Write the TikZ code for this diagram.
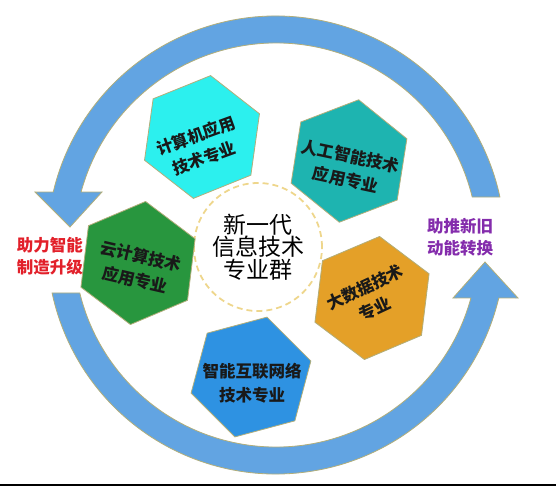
\documentclass[tikz,border=0pt]{standalone}
\usepackage{fontspec}
\newfontfamily\cjk{Noto Sans CJK SC}
\usetikzlibrary{shapes.geometric}

\definecolor{ringblue}{RGB}{98,164,226}
\definecolor{ringline}{RGB}{178,174,122}
\definecolor{hexcyan}{RGB}{44,240,238}
\definecolor{hexteal}{RGB}{30,180,176}
\definecolor{hexorange}{RGB}{228,160,40}
\definecolor{hexblue}{RGB}{46,146,226}
\definecolor{hexgreen}{RGB}{40,150,62}
\definecolor{coreline}{RGB}{238,214,140}
\definecolor{leftred}{RGB}{226,32,42}
\definecolor{rightpurple}{RGB}{132,44,172}

\begin{document}
\begin{tikzpicture}[x=1pt, y=1pt,
  hexa/.style={regular polygon, regular polygon sides=6, minimum size=124pt,
    inner sep=0pt, draw=ringline, line width=0.8pt},
  hexlabel/.style={font=\cjk\bfseries\fontsize{16.5}{24}\selectfont,
    align=center, text=black!90, inner sep=0pt},
  sidelabel/.style={font=\cjk\bfseries\fontsize{16.5}{22}\selectfont,
    align=center, inner sep=0pt},
  ring/.style={fill=ringblue, draw=ringline, line width=0.8pt}]
\useasboundingbox (-276,-242) rectangle (280,245);

\def\rin{202}
\def\rout{229}
\def\yu{48}
\def\yh{53}
\pgfmathsetmacro{\ai}{asin(\yu/\rin)}
\pgfmathsetmacro{\ao}{asin(\yu/\rout)}
\pgfmathsetmacro{\bi}{asin(\yh/\rin)}
\pgfmathsetmacro{\bo}{asin(\yh/\rout)}
\pgfmathsetmacro{\ubi}{180-\bi}
\pgfmathsetmacro{\ubo}{180-\bo}
\pgfmathsetmacro{\lao}{180+\ao}
\pgfmathsetmacro{\lai}{180+\ai}
\pgfmathsetmacro{\lbo}{360-\bo}
\pgfmathsetmacro{\lbi}{360-\bi}

% Upper arrow, running over the top and pointing down on the left
\path[ring] (\ai:\rin) arc[start angle=\ai, end angle=\ubi, radius=\rin]
  -- (-174,\yh) -- (-206,18) -- (-241,\yh)
  -- (\ubo:\rout) arc[start angle=\ubo, end angle=\ao, radius=\rout] -- cycle;

% Lower arrow, running under the bottom and pointing up on the right
\path[ring] (\lao:\rout) arc[start angle=\lao, end angle=\lbo, radius=\rout]
  -- (242,-\yh) -- (209,-17) -- (177,-\yh)
  -- (\lbi:\rin) arc[start angle=\lbi, end angle=\lai, radius=\rin] -- cycle;

% Core circle
\node[circle, draw=coreline, line width=1.8pt, dash pattern=on 6pt off 4pt,
  minimum size=128pt, inner sep=0pt,
  font=\cjk\fontsize{23}{22.5}\selectfont, align=center] (core) at (-18,-2)
  {新一代\\信息技术\\专业群};

% Hexagons
\node[hexa, fill=hexcyan, rotate=22] (comp) at (-74,108) {};
\node[hexa, fill=hexteal, rotate=21] (ai) at (73,84) {};
\node[hexa, fill=hexorange, rotate=23] (bigdata) at (96,-53) {};
\node[hexa, fill=hexblue, rotate=15] (iot) at (-25,-132) {};
\node[hexa, fill=hexgreen, rotate=23] (cloud) at (-138,-18) {};

\node[hexlabel, rotate=20] (comp-t) at (-76,98) {计算机应用\\技术专业};
\node[hexlabel, rotate=-12] (ai-t) at (72,77) {人工智能技术\\应用专业};
\node[hexlabel, rotate=25] (bigdata-t) at (94,-53) {大数据技术\\专业};
\node[hexlabel] (iot-t) at (-24,-138) {智能互联网络\\技术专业};
\node[hexlabel, rotate=-13] (cloud-t) at (-138,-23) {云计算技术\\应用专业};

% Side labels
\node[sidelabel, text=leftred] (left-t) at (-226,-11) {助力智能\\制造升级};
\node[sidelabel, text=rightpurple] (right-t) at (184,8) {助推新旧\\动能转换};

% Bottom edge line
\draw[line width=2pt] (-276,-239.5) -- (280,-239.5);
\end{tikzpicture}
\end{document}
